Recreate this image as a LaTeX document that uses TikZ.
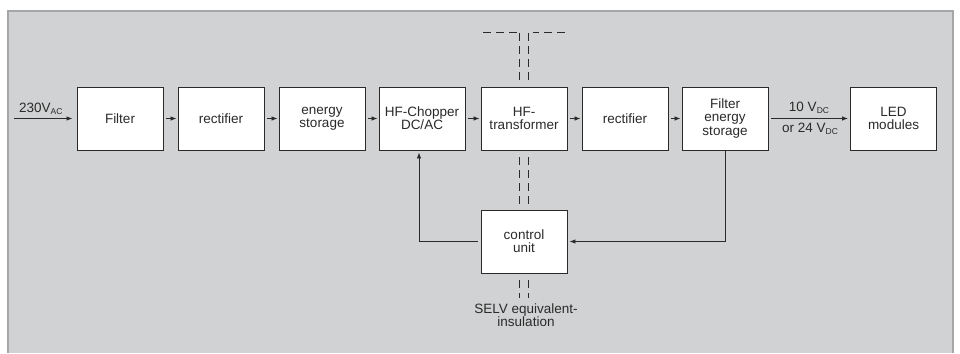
\documentclass[tikz,border=0pt]{standalone}
\usepackage{fontspec}
\setmainfont{Liberation Sans}
\usetikzlibrary{arrows.meta,positioning}
\definecolor{panel}{HTML}{D1D2D4}
\definecolor{rim}{HTML}{A5A6A8}
\definecolor{ink}{HTML}{2B2A29}
\newcommand{\vsub}[1]{\raisebox{-2pt}{\fontsize{8.5}{9}\selectfont #1}}
\tikzset{
  block/.style={draw=ink, fill=white, line width=0.9pt, minimum width=86pt,
    minimum height=63pt, inner sep=0pt, align=center, text=ink,
    font=\fontsize{13.5}{13.2}\selectfont},
  link/.style={draw=ink, line width=0.8pt, -{Latex[length=6pt,width=4.5pt]}},
  insul/.style={draw=ink, line width=1pt, dash pattern=on 8pt off 5pt},
  lbl/.style={text=ink, font=\fontsize{13.5}{13.2}\selectfont, inner sep=0pt, align=center},
}
\begin{document}
\begin{tikzpicture}[x=1pt,y=-1pt]
	\useasboundingbox (0,0) rectangle (960,353);
	\fill [panel] (8,11) rectangle (953,353);
	\draw [rim, line width=1.2pt] (8,353) -- (8,11) -- (953,11) -- (953,353);
	\node [block] (filt) at (120,118.5) {Filter};
	\node [block] (rect) at (221,118.5) {rectifier};
	\node [block] (stor) at (322,118.5) {energy\\storage};
	\node [block] (chop) at (422,118.5) {HF-Chopper\\DC/AC};
	\node [block] (xfmr) at (524,118.5) {HF-\\transformer};
	\node [block] (rectb) at (625,118.5) {rectifier};
	\node [block] (fest) at (725,118.5) {Filter\\energy\\storage};
	\node [block] (led) at (893.5,118.5) {LED\\modules};
	\node [block] (ctrl) at (524,241.5) {control\\unit};
	\coordinate (mains) at (14,118.5);
	\node [lbl, anchor=base west] (vin) at (19,112.5) {230V\vsub{AC}};
	\node [lbl, anchor=base] (vouta) at (809,111) {10 V\vsub{DC}};
	\node [lbl, anchor=base] (voutb) at (810,132.7) {or 24 V\vsub{DC}};
	\node [lbl, anchor=north] (selv) at (526,303.5) {SELV equivalent-\\insulation};
	\draw [link, shorten >=4pt] (mains) -- (filt.west);
	\foreach \a/\b in {filt/rect, rect/stor, stor/chop, chop/xfmr, xfmr/rectb, rectb/fest}
		\draw [link, shorten <=3pt, shorten >=1pt] (\a.east) -- (\b.west);
	\draw [link, shorten <=3pt, shorten >=2pt] (fest.east) -- (led.west);
	\draw [link, shorten >=2pt] (fest.south) |- (ctrl.east);
	\draw [link, shorten <=3pt, shorten >=2pt] (ctrl.west) -| ([xshift=-3pt]chop.south);
	\draw [insul] (519.5,33) -- (519.5,82);
	\draw [insul] (528,33) -- (528,82);
	\draw [insul] (483,33) -- (519.5,33);
	\draw [insul] (565,33) -- (533,33);
	\draw [insul] (519.5,157) -- (519.5,205);
	\draw [insul] (528,157) -- (528,205);
	\draw [insul] (519.5,280) -- (519.5,298);
	\draw [insul] (528,280) -- (528,298);
\end{tikzpicture}
\end{document}
